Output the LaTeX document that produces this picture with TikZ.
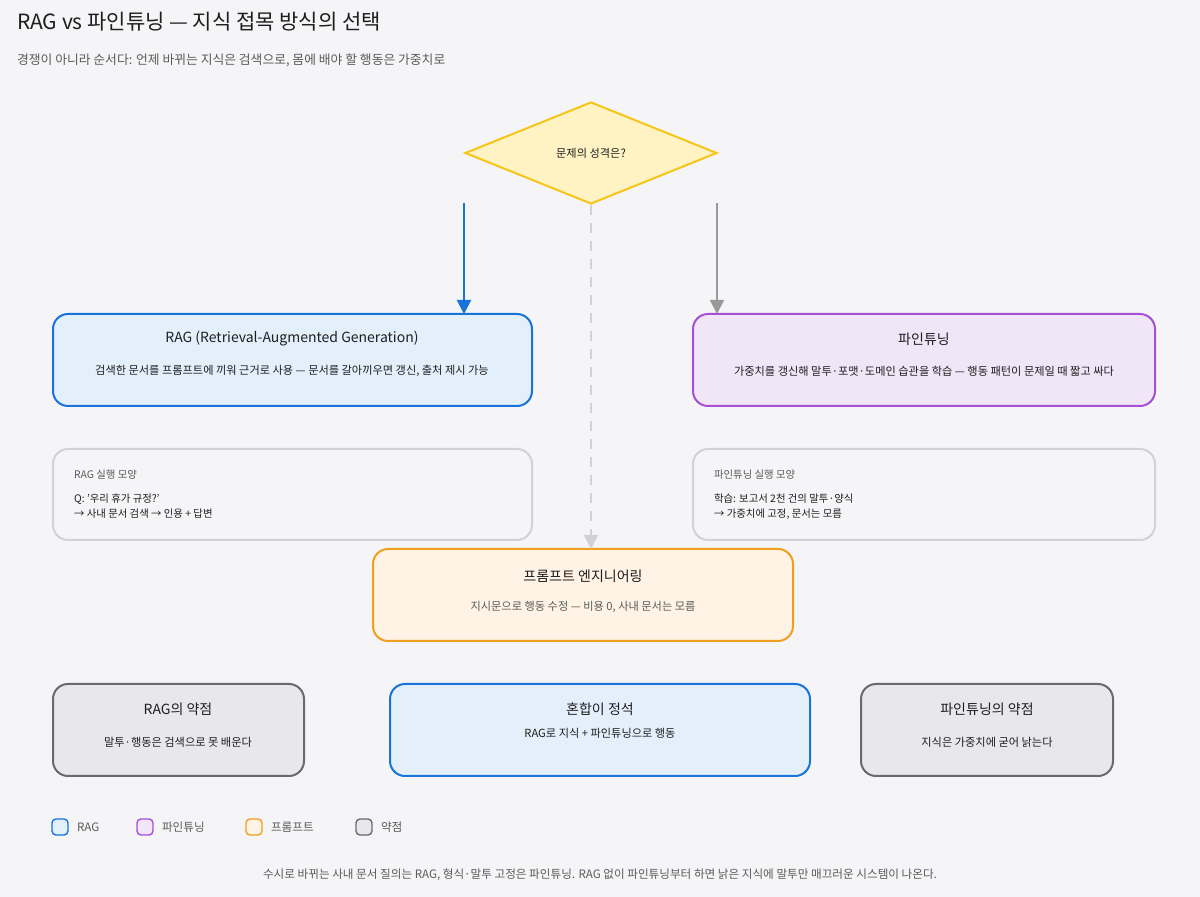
\documentclass[tikz,border=0pt]{standalone}
\usepackage{fontspec}
\setmainfont{Noto Sans CJK KR}
\usetikzlibrary{shapes.geometric,arrows.meta}
\definecolor{bg}{HTML}{F5F5F7}
\definecolor{ragf}{HTML}{E3F0FB}\definecolor{ragd}{HTML}{1874D9}
\definecolor{ftf}{HTML}{F1E6F8}\definecolor{ftd}{HTML}{A64FD6}
\definecolor{prf}{HTML}{FEF3E4}\definecolor{prd}{HTML}{F0A020}
\definecolor{wkf}{HTML}{E8E8EC}\definecolor{wkd}{HTML}{6A6A6A}
\definecolor{dmf}{HTML}{FFF3C4}\definecolor{dmd}{HTML}{F5C518}
\definecolor{exd}{HTML}{D2D2D6}\definecolor{txt}{HTML}{1E1E1E}\definecolor{sub}{HTML}{5A5A5A}
\begin{document}
\begin{tikzpicture}[x=0.5pt,y=-0.5pt,
 box/.style={draw,line width=1pt,rounded corners=7.5pt},
 ttl/.style={font=\fontsize{7}{8}\selectfont,text=txt},
 dsc/.style={font=\fontsize{5.6}{7}\selectfont,text=txt},
 sml/.style={font=\fontsize{5.2}{7.2}\selectfont,text=txt,anchor=north west,align=left},
 leg/.style={draw,line width=0.7pt,rounded corners=2pt,minimum size=8pt,inner sep=0},
 legt/.style={font=\fontsize{5.8}{7}\selectfont,text=sub,anchor=west}]
\fill[bg] (0,0) rectangle (1200,897);
\node[anchor=west,font=\fontsize{10.5}{12}\selectfont,text=txt] (title) at (10,22) {RAG vs 파인튜닝 — 지식 접목 방식의 선택};
\node[anchor=west,font=\fontsize{6.4}{8}\selectfont,text=sub] (subt) at (10,60) {경쟁이 아니라 순서다: 언제 바뀌는 지식은 검색으로, 몸에 배야 할 행동은 가중치로};
\node[diamond,draw=dmd,fill=dmf,line width=1pt,minimum width=126pt,minimum height=51pt,inner sep=0,dsc] (q) at (591,153) {문제의 성격은?};
% boxes
\draw[box,draw=ragd,fill=ragf] (53,314) rectangle (532,406);
\node[ttl] (rag) at (292,339) {RAG (Retrieval-Augmented Generation)};
\node[dsc] (ragd) at (292,371) {검색한 문서를 프롬프트에 끼워 근거로 사용 — 문서를 갈아끼우면 갱신, 출처 제시 가능};
\draw[box,draw=ftd,fill=ftf] (693,314) rectangle (1155,406);
\node[ttl] (ft) at (924,339) {파인튜닝};
\node[dsc] (ftdd) at (924,371) {가중치를 갱신해 말투·포맷·도메인 습관을 학습 — 행동 패턴이 문제일 때 짧고 싸다};
\draw[box,draw=exd,fill=bg] (53,449) rectangle (532,540);
\node[sml,text=sub] (rex1) at (67,463) {RAG 실행 모양};
\node[sml] (rex2) at (67,487) {Q: '우리 휴가 규정?'\\→ 사내 문서 검색 → 인용 + 답변};
\draw[box,draw=exd,fill=bg] (693,449) rectangle (1155,540);
\node[sml,text=sub] (fex1) at (707,463) {파인튜닝 실행 모양};
\node[sml] (fex2) at (707,487) {학습: 보고서 2천 건의 말투·양식\\→ 가중치에 고정, 문서는 모름};
\draw[box,draw=prd,fill=prf] (373,549) rectangle (793,641);
\node[ttl] (pr) at (583,576) {프롬프트 엔지니어링};
\node[dsc,text=sub] (prd2) at (583,607) {지시문으로 행동 수정 — 비용 0, 사내 문서는 모름};
\draw[box,draw=wkd,fill=wkf] (53,684) rectangle (304,776);
\node[ttl] (w1) at (178,709) {RAG의 약점};
\node[dsc] (w1d) at (178,742) {말투·행동은 검색으로 못 배운다};
\draw[box,draw=ragd,fill=ragf] (390,684) rectangle (810,776);
\node[ttl] (mix) at (600,709) {혼합이 정석};
\node[dsc] (mixd) at (600,733) {RAG로 지식 + 파인튜닝으로 행동};
\draw[box,draw=wkd,fill=wkf] (861,684) rectangle (1113,776);
\node[ttl] (w2) at (987,709) {파인튜닝의 약점};
\node[dsc] (w2d) at (987,742) {지식은 가중치에 굳어 낡는다};
% arrows
\coordinate (a1) at (464,203); \coordinate (a1e) at (464,314);
\coordinate (a2) at (591,205); \coordinate (a2e) at (591,549);
\coordinate (a3) at (717,203); \coordinate (a3e) at (717,314);
\draw[ragd,line width=1.1pt,-{Triangle[length=7pt,width=7pt]}] (a1)--(a1e);
\draw[exd,line width=1pt,dash pattern=on 5pt off 4pt,-{Triangle[length=7pt,width=7pt]}] (a2)--(a2e);
\draw[gray!80,line width=0.8pt,-{Triangle[length=7pt,width=7pt]}] (a3)--(a3e);
% legend
\node[leg,draw=ragd,fill=ragf] (l1) at (60,827) {}; \node[legt] (l1t) at (70,827) {RAG};
\node[leg,draw=ftd,fill=ftf] (l2) at (145,827) {}; \node[legt] (l2t) at (155,827) {파인튜닝};
\node[leg,draw=prd,fill=prf] (l3) at (254,827) {}; \node[legt] (l3t) at (264,827) {프롬프트};
\node[leg,draw=wkd,fill=wkf] (l4) at (364,827) {}; \node[legt] (l4t) at (374,827) {약점};
\node[font=\fontsize{5.8}{7}\selectfont,text=sub] (foot) at (600,875) {수시로 바뀌는 사내 문서 질의는 RAG, 형식·말투 고정은 파인튜닝. RAG 없이 파인튜닝부터 하면 낡은 지식에 말투만 매끄러운 시스템이 나온다.};
\end{tikzpicture}
\end{document}
